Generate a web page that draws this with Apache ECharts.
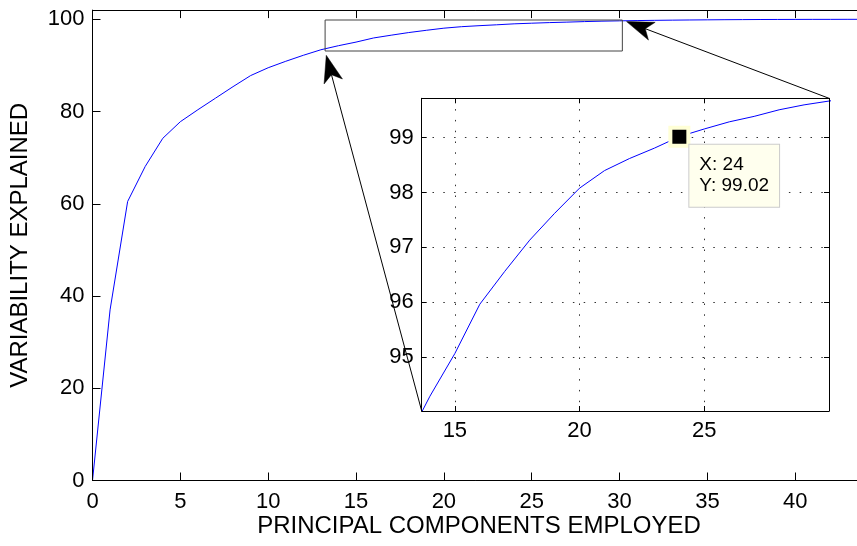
<!DOCTYPE html>
<html>
<head>
<meta charset="utf-8">
<script src="https://cdn.jsdelivr.net/npm/echarts@6/dist/echarts.min.js"></script>
<style>
  html, body { margin: 0; padding: 0; background: #fff; }
  #chart { width: 857px; height: 546px; }
</style>
</head>
<body>
<div id="chart"></div>
<script>
// Cumulative variability explained by the principal components
const components = [0, 1, 2, 3, 4, 5, 6, 7, 8, 9, 10, 11, 12, 13, 14, 15, 16, 17, 18, 19, 20, 21, 22,
  23, 24, 25, 26, 27, 28, 29, 30, 31, 32, 33, 34, 35, 36, 37, 38, 39, 40, 41, 42, 43, 44];
const variability = [0, 37.0, 60.5, 68.1, 74.2, 77.8, 80.4, 82.9, 85.4, 87.8, 89.5, 90.9, 92.2,
  93.4, 94.28, 95.06, 95.96, 96.56, 97.13, 97.62, 98.08, 98.40, 98.62, 98.81, 99.02, 99.16,
  99.29, 99.39, 99.51, 99.60, 99.67, 99.73, 99.78, 99.82, 99.86, 99.89, 99.92, 99.94, 99.96,
  99.97, 99.98, 99.99, 99.99, 100.0, 100.0];

// Tick values
const mainXTicks = [0, 5, 10, 15, 20, 25, 30, 35, 40];
const mainYTicks = [0, 20, 40, 60, 80, 100];
const insetXTicks = [15, 20, 25];
const insetYTicks = [95, 96, 97, 98, 99];

// Axis ranges
const mainXRange = [0, 44];
const mainYRange = [0, 102];
const insetXRange = [13.67, 30];
const insetYRange = [94.01, 99.72];

// Region of the main plot that the inset magnifies
const zoomBoxX = [13.24, 30.16];
const zoomBoxY = [93.13, 99.85];

// Component highlighted with a data tip
const tipIndex = 24;

const FONT = "'Liberation Sans', Arial, Helvetica, sans-serif";
const BLUE = '#0000ff';

function valueAxis(o) {
  return {
    type: 'value',
    gridIndex: o.grid,
    position: o.position,
    min: o.range[0],
    max: o.range[1],
    axisLine: { show: true, onZero: false, lineStyle: { color: '#000', width: 1 } },
    axisTick: {
      show: true, inside: true, length: o.tickLen,
      customValues: o.ticks, lineStyle: { color: '#000', width: 1 }
    },
    axisLabel: {
      show: !!o.labels, customValues: o.ticks, margin: o.margin || 8,
      color: '#000', fontSize: 22, fontFamily: FONT
    },
    splitLine: {
      show: !!o.gridLines,
      lineStyle: { color: '#333', width: 1, type: [1.5, 9.3] }
    },
    name: o.name || '',
    nameLocation: 'middle',
    nameGap: o.nameGap || 0,
    nameRotate: o.nameRotate || 0,
    nameMoveOverlap: false,
    nameTextStyle: { fontSize: 24, color: '#000', fontFamily: FONT },
    z: 5
  };
}

const points = components.map((c, i) => [c, variability[i]]);

const option = {
  animation: false,
  backgroundColor: '#fff',
  grid: [
    { left: 92.5, top: 10.1, width: 773, height: 470.4, outerBoundsMode: 'none', containLabel: false },
    {
      left: 421.7, top: 98.3, width: 407.3, height: 312.7, outerBoundsMode: 'none', containLabel: false,
      show: true, backgroundColor: '#fff', borderWidth: 0, z: 3
    }
  ],
  xAxis: [
    valueAxis({ grid: 0, position: 'bottom', range: mainXRange, ticks: mainXTicks, tickLen: 8,
      labels: true, margin: 10, name: 'PRINCIPAL COMPONENTS EMPLOYED', nameGap: 34 }),
    valueAxis({ grid: 0, position: 'top', range: mainXRange, ticks: mainXTicks, tickLen: 8 }),
    valueAxis({ grid: 1, position: 'bottom', range: insetXRange, ticks: insetXTicks, tickLen: 5,
      labels: true, margin: 9, gridLines: true }),
    valueAxis({ grid: 1, position: 'top', range: insetXRange, ticks: insetXTicks, tickLen: 5 })
  ],
  yAxis: [
    valueAxis({ grid: 0, position: 'left', range: mainYRange, ticks: mainYTicks, tickLen: 8,
      labels: true, margin: 8, name: 'VARIABILITY EXPLAINED', nameGap: 60, nameRotate: 90 }),
    valueAxis({ grid: 1, position: 'left', range: insetYRange, ticks: insetYTicks, tickLen: 5,
      labels: true, margin: 8, gridLines: true }),
    valueAxis({ grid: 1, position: 'right', range: insetYRange, ticks: insetYTicks, tickLen: 5 })
  ],
  series: [
    {
      type: 'line', xAxisIndex: 0, yAxisIndex: 0, data: points,
      showSymbol: false, silent: true,
      lineStyle: { color: BLUE, width: 1 }
    },
    {
      type: 'line', xAxisIndex: 2, yAxisIndex: 1, data: points,
      showSymbol: false, silent: true, clip: true, z: 4,
      lineStyle: { color: BLUE, width: 1 }
    },
    {
      type: 'scatter', xAxisIndex: 2, yAxisIndex: 1, silent: true, clip: false, z: 10,
      data: [[components[tipIndex], variability[tipIndex]]],
      symbol: 'rect', symbolSize: 18,
      itemStyle: { color: '#000', borderColor: '#ffffd6', borderWidth: 4, opacity: 1 },
      label: {
        show: true,
        position: [21, 19],
        align: 'left',
        verticalAlign: 'top',
        formatter: p => 'X: ' + p.value[0] + '\nY: ' + p.value[1].toFixed(2),
        fontSize: 19, lineHeight: 21, fontFamily: FONT, color: '#000', opacity: 1,
        backgroundColor: '#ffffee', borderColor: '#cccccc', borderWidth: 1,
        padding: [10, 10, 10, 10]
      }
    }
  ]
};

const chart = echarts.init(document.getElementById('chart'), null, { renderer: 'canvas' });
chart.setOption(option);

// Zoom box on the main plot and arrows linking it to the inset
const mainPx = v => chart.convertToPixel({ xAxisIndex: 0, yAxisIndex: 0 }, v);
const insetPx = v => chart.convertToPixel({ xAxisIndex: 2, yAxisIndex: 1 }, v);

function arrow(tail, corner) {
  const dx = tail[0] - corner[0], dy = tail[1] - corner[1];
  const len = Math.hypot(dx, dy);
  const ux = dx / len, uy = dy / len, nx = -uy, ny = ux;
  const tip = [corner[0] + ux * 4.5, corner[1] + uy * 4.5];
  const at = (a, n) => [tip[0] + ux * a + nx * n, tip[1] + uy * a + ny * n];
  const notch = at(20, 0);
  return [
    { type: 'line', z: 20, silent: true,
      shape: { x1: tail[0], y1: tail[1], x2: notch[0], y2: notch[1] },
      style: { stroke: '#000', lineWidth: 1 } },
    { type: 'polygon', z: 20, silent: true,
      shape: { points: [tip, at(27, 9.5), notch, at(27, -9.5)] },
      style: { fill: '#000', stroke: '#000', lineWidth: 0.5 } }
  ];
}

const boxBL = mainPx([zoomBoxX[0], zoomBoxY[0]]);
const boxTR = mainPx([zoomBoxX[1], zoomBoxY[1]]);
const insetBL = insetPx([insetXRange[0], insetYRange[0]]);
const insetTR = insetPx([insetXRange[1], insetYRange[1]]);

chart.setOption({
  graphic: [
    { type: 'rect', z: 20, silent: true,
      shape: { x: boxBL[0], y: boxTR[1], width: boxTR[0] - boxBL[0], height: boxBL[1] - boxTR[1] },
      style: { fill: 'none', stroke: '#444', lineWidth: 1 } },
    ...arrow(insetBL, boxBL),
    ...arrow(insetTR, boxTR)
  ]
});
</script>
</body>
</html>
